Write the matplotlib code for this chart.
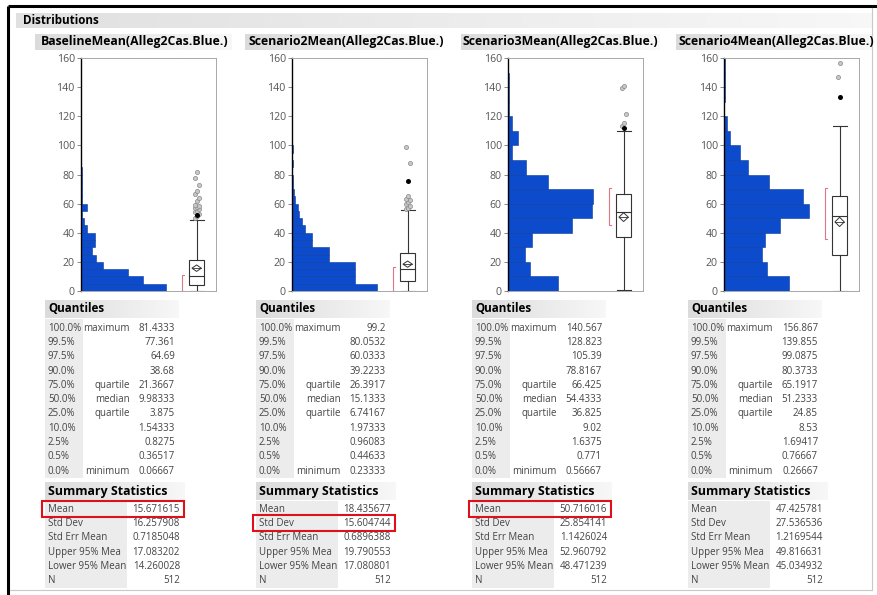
import matplotlib
matplotlib.use('Agg')
import matplotlib.pyplot as plt
from matplotlib.patches import Rectangle, Polygon
import numpy as np

plt.rcParams['font.family'] = ['Open Sans', 'DejaVu Sans']

W, H = 878, 595

titles = ['BaselineMean(Alleg2Cas.Blue.)', 'Scenario2Mean(Alleg2Cas.Blue.)',
          'Scenario3Mean(Alleg2Cas.Blue.)', 'Scenario4Mean(Alleg2Cas.Blue.)']

# histogram bin widths and counts (bins start at 0)
bin_width = [5, 5, 10, 10]
baseline_counts = [148, 109, 82, 39, 27, 20, 25, 25, 11, 6, 2, 11, 2, 2, 1, 1, 1]
scen2_counts = [100, 75, 75, 75, 44, 44, 24, 24, 15, 12, 8, 7, 3, 2, 1, 1, 0, 1, 0, 1]
scen3_counts = [60, 27, 21, 29, 77, 101, 102, 48, 22, 5, 12, 5, 1, 1, 1]
scen4_counts = [66, 44, 39, 42, 57, 86, 80, 46, 24, 16, 6, 3, 0, 1, 1, 1]
all_counts = [baseline_counts, scen2_counts, scen3_counts, scen4_counts]

# outlier box plot extras
baseline_outliers = [50.4, 51.3, 53.1, 54.0, 55.2, 56.0, 56.9, 57.6, 58.4, 59.3,
                     61.6, 63.9, 66.3, 68.8, 72.5, 77.4, 81.4333]
scen2_outliers = [56.4, 57.3, 58.5, 59.6, 60.8, 62.2, 63.5, 65.4, 87.8, 99.2]
scen3_outliers = [113.6, 115.6, 121.5, 139.2, 140.567]
scen4_outliers = [146.7, 156.867]
all_outliers = [baseline_outliers, scen2_outliers, scen3_outliers, scen4_outliers]
highlighted = [52.3, 75.2, 112.0, 133.0]
whisker_top = [48.5, 55.6, 110.0, 113.0]
shortest_half = [(0.07, 11.0), (0.23, 16.3), (45.5, 70.5), (35.4, 71.0)]

quantile_pcts = ['100.0%', '99.5%', '97.5%', '90.0%', '75.0%', '50.0%',
                 '25.0%', '10.0%', '2.5%', '0.5%', '0.0%']
quantile_names = ['maximum', '', '', '', 'quartile', 'median', 'quartile',
                  '', '', '', 'minimum']
baseline_q = ['81.4333', '77.361', '64.69', '38.68', '21.3667', '9.98333',
              '3.875', '1.54333', '0.8275', '0.36517', '0.06667']
scen2_q = ['99.2', '80.0532', '60.0333', '39.2233', '26.3917', '15.1333',
           '6.74167', '1.97333', '0.96083', '0.44633', '0.23333']
scen3_q = ['140.567', '128.823', '105.39', '78.8167', '66.425', '54.4333',
           '36.825', '9.02', '1.6375', '0.771', '0.56667']
scen4_q = ['156.867', '139.855', '99.0875', '80.3733', '65.1917', '51.2333',
           '24.85', '8.53', '1.69417', '0.76667', '0.26667']
all_q = [baseline_q, scen2_q, scen3_q, scen4_q]

stat_names = ['Mean', 'Std Dev', 'Std Err Mean', 'Upper 95% Mea',
              'Lower 95% Mean', 'N']
baseline_s = ['15.671615', '16.257908', '0.7185048', '17.083202', '14.260028', '512']
scen2_s = ['18.435677', '15.604744', '0.6896388', '19.790553', '17.080801', '512']
scen3_s = ['50.716016', '25.854141', '1.1426024', '52.960792', '48.471239', '512']
scen4_s = ['47.425781', '27.536536', '1.2169544', '49.816631', '45.034932', '512']
all_s = [baseline_s, scen2_s, scen3_s, scen4_s]
boxed_row = [0, 1, 0, None]

# layout in pixels
hist_left = [81, 292, 508, 724]
title_box_x = [35, 245, 461, 676]
title_box_w = [197, 195, 199, 197]
title_text_x = [40.5, 248.5, 463, 679]
table_left = [45, 256, 472, 688]

BLUE = '#0b4bcc'
TXT = '#444444'


def px_rect(x, y, w, h):
    return [x / W, 1 - (y + h) / H, w / W, h / H]


def grad_box(ax, x, y, w, h, c0=0.86, c1=0.97):
    g = np.linspace(c0, c1, 64)[None, :]
    ax.imshow(np.dstack([g, g, g]), extent=(x, x + w, y + h, y), aspect='auto',
              interpolation='bilinear', zorder=1)


fig = plt.figure(figsize=(W / 100, H / 100), dpi=100)
bg = fig.add_axes([0, 0, 1, 1])
bg.axis('off')

# window frame
bg.plot([8, W], [6, 6], color='black', lw=2.2, solid_capstyle='butt')
bg.plot([8, 8], [6, H], color='black', lw=2.2, solid_capstyle='butt')
bg.plot([872, 872], [8, 590], color='#c8c8c8', lw=0.8)
bg.plot([10, 872], [590, 590], color='#c8c8c8', lw=0.8)

grad_box(bg, 16, 13, 856, 15, 0.88, 0.97)
bg.text(23, 20.5, 'Distributions', fontsize=8.4, fontweight='bold', va='center', color='black')

for i in range(4):
    # column title
    grad_box(bg, title_box_x[i], 34, title_box_w[i], 16)
    bg.text(title_text_x[i], 42, titles[i], fontsize=8.8, fontweight='bold',
            va='center', color='black')

    # histogram
    counts = all_counts[i]
    bw = bin_width[i]
    x0 = hist_left[i]
    ax = fig.add_axes(px_rect(x0, 58, 96.5, 233))
    ax.barh(np.arange(len(counts)) * bw, counts, height=bw, align='edge',
            color=BLUE, edgecolor='#0a3a9a', linewidth=0.4)
    ax.set_ylim(0, 160)
    ax.set_xlim(0, max(counts) * 1.14)
    ax.set_xticks([])
    ax.set_yticks(range(0, 161, 20))
    ax.tick_params(axis='y', length=3, width=0.6, color='#777777',
                   labelsize=7.6, labelcolor='#555555', pad=1.5)
    ax.spines['left'].set_color('black')
    ax.spines['left'].set_linewidth(1.0)
    for s in ['top', 'right', 'bottom']:
        ax.spines[s].set_color('#a8a8a8')
        ax.spines[s].set_linewidth(0.7)

    # outlier box plot
    q = [float(v) for v in all_q[i]]
    st = [float(v) for v in all_s[i]]
    q3, med, q1, mn = q[4], q[5], q[6], q[10]
    mean, up, lo = st[0], st[3], st[4]
    bx = fig.add_axes(px_rect(x0 + 96.5, 58, 39, 233))
    bx.set_xlim(0, 1)
    bx.set_ylim(0, 160)
    bx.set_xticks([])
    bx.set_yticks([])
    bx.spines['left'].set_visible(False)
    for s in ['top', 'right', 'bottom']:
        bx.spines[s].set_color('#a8a8a8')
        bx.spines[s].set_linewidth(0.7)
    lc = '#333333'
    bx.add_patch(Rectangle((0.29, q1), 0.4, q3 - q1, fill=False, ec=lc, lw=0.8))
    bx.plot([0.29, 0.69], [med, med], color=lc, lw=0.8)
    bx.plot([0.49, 0.49], [mn, q1], color=lc, lw=0.8)
    bx.plot([0.49, 0.49], [q3, whisker_top[i]], color=lc, lw=0.8)
    bx.plot([0.31, 0.67], [mn, mn], color=lc, lw=0.8)
    bx.plot([0.31, 0.67], [whisker_top[i], whisker_top[i]], color=lc, lw=0.8)
    bx.add_patch(Polygon([(0.37, mean), (0.49, up + 0.8), (0.61, mean), (0.49, lo - 0.8)],
                         closed=True, fill=False, ec=lc, lw=0.7))
    bx.plot([0.37, 0.61], [mean, mean], color=lc, lw=0.6)
    a, b = shortest_half[i]
    bx.plot([0.16, 0.11, 0.11, 0.16], [a, a, b, b], color='#e07585', lw=0.8)
    outs = all_outliers[i]
    jitter = [0.5 + 0.05 * ((k % 3) - 1) for k in range(len(outs))]
    bx.scatter(jitter, outs, s=9, facecolors='#c8c8c8', edgecolors='#8a8a8a',
               linewidths=0.5, zorder=3)
    bx.scatter([0.5], [highlighted[i]], s=13, color='black', linewidths=0, zorder=4)

    # quantiles table
    tx = table_left[i]
    grad_box(bg, tx, 300, 134, 18)
    bg.text(tx + 3, 309, 'Quantiles', fontsize=8.4, fontweight='bold', va='center', color='black')
    bg.add_patch(Rectangle((tx, 319), 38, 159, color='#ececec', lw=0, zorder=0.5))
    for k in range(len(quantile_pcts)):
        y = 328.3 + k * 14.27
        bg.text(tx + 3, y, quantile_pcts[k], fontsize=7.0, va='center', color=TXT)
        bg.text(tx + 85, y, quantile_names[k], fontsize=7.0, va='center', ha='right', color=TXT)
        bg.text(tx + 130, y, all_q[i][k], fontsize=7.0, va='center', ha='right', color=TXT)

    # summary statistics table
    grad_box(bg, tx, 482, 140, 18)
    bg.text(tx + 3, 491.5, 'Summary Statistics', fontsize=8.9, fontweight='bold',
            va='center', color='black')
    bg.add_patch(Rectangle((tx, 501), 82, 87, color='#ececec', lw=0, zorder=0.5))
    for k in range(len(stat_names)):
        y = 509 + k * 14.35
        bg.text(tx + 3, y, stat_names[k], fontsize=7.0, va='center', color=TXT)
        bg.text(tx + 135, y, all_s[i][k], fontsize=7.0, va='center', ha='right', color=TXT)
    if boxed_row[i] is not None:
        y = 509 + boxed_row[i] * 14.35
        bg.add_patch(Rectangle((tx - 3, y - 8), 142, 16, fill=False, ec='#e0101a',
                               lw=1.5, zorder=5))

bg.set_xlim(0, W)
bg.set_ylim(H, 0)

fig.savefig('out.png', dpi=100)
